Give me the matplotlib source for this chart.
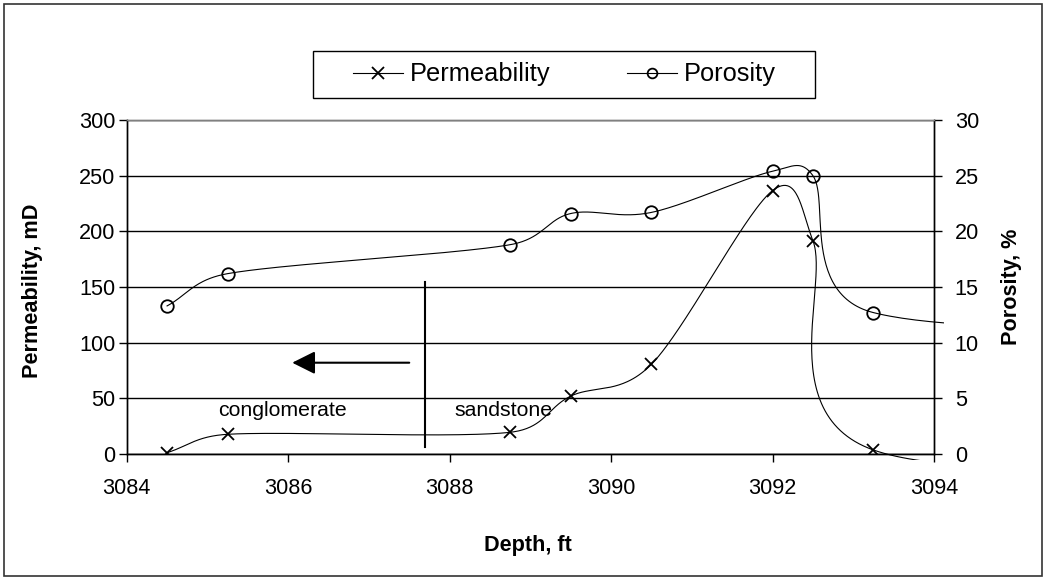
import numpy as np
import matplotlib
matplotlib.use("Agg")
import matplotlib.pyplot as plt
from matplotlib.patches import Rectangle
from matplotlib.lines import Line2D

plt.rcParams['font.family'] = ['Liberation Sans', 'DejaVu Sans']

# ---------------- data ----------------
depth = [3084.5, 3085.25, 3088.75, 3089.5, 3090.5, 3092.0, 3092.5, 3093.25]
permeability = [1.2, 17.7, 19.5, 52.0, 80.6, 236.6, 191.6, 3.6]
porosity = [13.3, 16.2, 18.8, 21.6, 21.7, 25.4, 25.0, 12.7]
# next sample lies beyond the visible depth range (only the curve tail shows)
tail_depth = 3100.0
tail_perm = 0.0
tail_poro = 11.3

x_ticks = [3084, 3086, 3088, 3090, 3092, 3094]
perm_ticks = [0, 50, 100, 150, 200, 250, 300]
poro_ticks = [0, 5, 10, 15, 20, 25, 30]

divider_depth = 3087.7
divider_span = [6.6, 154.5]
arrow_from, arrow_to, arrow_level = 3087.5, 3086.05, 82
labels = [("conglomerate", 3085.93, 39.5), ("sandstone", 3088.67, 39.5)]

FS = 15.3
FS_TICK = 15.6
FS_LAB = 15.6
FS_LEG = 18.3
W, H = 1045, 577

fig = plt.figure(figsize=(W / 100, H / 100), dpi=100)
L, R, T, B = 126.7, 934.0, 120.0, 454.0
fig.subplots_adjust(left=L / W, right=R / W, bottom=1 - B / H, top=1 - T / H)
ax = fig.add_subplot(111)
ax2 = ax.twinx()

ax.set_xlim(3084, 3094)
ax.set_ylim(0, 300)
ax2.set_ylim(0, 30)
ax.set_xticks(x_ticks)
ax.set_yticks(perm_ticks)
ax2.set_yticks(poro_ticks)

for a in (ax, ax2):
    a.tick_params(direction='out', length=6, width=1, colors='black', labelsize=FS_TICK)
    for s in a.spines.values():
        s.set_linewidth(1.0)
        s.set_color('black')
    a.spines['top'].set_color('#808080')
ax.tick_params(axis='y', pad=2)
ax.tick_params(axis='x', pad=11)
ax2.tick_params(axis='y', pad=9)
ax.yaxis.grid(True, color='black', linewidth=1.0)
ax.set_axisbelow(True)
ax.patch.set_visible(False)


def excel_smooth(axis, xs, ys, nseg=60):
    pts = axis.transData.transform(np.column_stack([xs, ys]))
    n = len(pts)
    out = []
    for i in range(n - 1):
        p1, p2 = pts[i], pts[i + 1]
        p0 = pts[i - 1] if i > 0 else p1
        p3 = pts[i + 2] if i + 2 < n else p2
        f = 1 / 6 if i > 0 else 1 / 3
        g = 1 / 6 if i + 2 < n else 1 / 3
        d12 = np.hypot(*(p2 - p1))
        d02 = np.hypot(*(p2 - p0))
        d13 = np.hypot(*(p3 - p1))
        if d02 * f > d12 / 2 and d02 > 0:
            f = d12 / (2 * d02)
        if d13 * g > d12 / 2 and d13 > 0:
            g = d12 / (2 * d13)
        c1 = p1 + f * (p2 - p0)
        c2 = p2 - g * (p3 - p1)
        t = np.linspace(0, 1, nseg)[:, None]
        seg = ((1 - t) ** 3) * p1 + 3 * ((1 - t) ** 2) * t * c1 + 3 * (1 - t) * t ** 2 * c2 + t ** 3 * p2
        out.append(seg if i == 0 else seg[1:])
    curve = np.vstack(out)
    return axis.transData.inverted().transform(curve)


perm_curve = excel_smooth(ax, depth + [tail_depth], permeability + [tail_perm])
poro_curve = excel_smooth(ax2, depth + [tail_depth], porosity + [tail_poro])

clip1 = Rectangle((-0.012, -0.018), 1.024, 1.03, transform=ax.transAxes)
clip2 = Rectangle((-0.012, -0.018), 1.024, 1.03, transform=ax2.transAxes)
pl, = ax.plot(perm_curve[:, 0], perm_curve[:, 1], color='black', lw=0.8)
pl.set_clip_path(clip1)
po, = ax2.plot(poro_curve[:, 0], poro_curve[:, 1], color='black', lw=0.8)
po.set_clip_path(clip2)
ax.plot(depth, permeability, linestyle='none', marker='x', ms=8, mew=1.3, color='black')
ax2.plot(depth, porosity, linestyle='none', marker='o', ms=9, mew=1.3, mfc='none', mec='black')

ax.plot([divider_depth, divider_depth], divider_span, color='black', lw=1.5)
ax.annotate('', xy=(arrow_to, arrow_level), xytext=(arrow_from, arrow_level),
            arrowprops=dict(arrowstyle='-|>,head_length=1.0,head_width=0.5', lw=1.5,
                            color='black', mutation_scale=14, shrinkA=0, shrinkB=0))
for txt, xv, yv in labels:
    ax.text(xv, yv, txt, ha='center', va='center', fontsize=FS)

fig.text(32.5 / W, 1 - 290.8 / H, 'Permeability, mD', rotation=90, ha='center', va='center',
         fontsize=FS_LAB, fontweight='bold')
fig.text(1011.7 / W, 1 - 286.7 / H, 'Porosity, %', rotation=90, ha='center', va='center',
         fontsize=FS_LAB, fontweight='bold')
fig.text(528 / W, 1 - 545 / H, 'Depth, ft', ha='center', va='center', fontsize=FS_LAB,
         fontweight='bold')

# legend
handles = [Line2D([], [], color='black', lw=0.8, marker='x', ms=8, mew=1.3),
           Line2D([], [], color='black', lw=0.8, marker='o', ms=7, mew=1.3, mfc='none')]
fig.legend(handles, ['Permeability', 'Porosity'], loc='center left',
           bbox_to_anchor=(353 / W, 1 - 74.5 / H), ncol=2, frameon=False, fontsize=FS_LEG,
           borderpad=0, borderaxespad=0, handlelength=1.97, handletextpad=0.28,
           columnspacing=2.99)
fig.patches.append(Rectangle((312.7 / W, 1 - 98.3 / H), (815 - 312.7) / W, 47.6 / H,
                             transform=fig.transFigure, fill=False, ec='black', lw=1.0))
fig.patches.append(Rectangle((4 / W, 1 - 576 / H), (1041.7 - 4) / W, 572 / H,
                             transform=fig.transFigure, fill=False, ec='#333333', lw=1.2))

fig.savefig('out.png', dpi=100, facecolor='white')
